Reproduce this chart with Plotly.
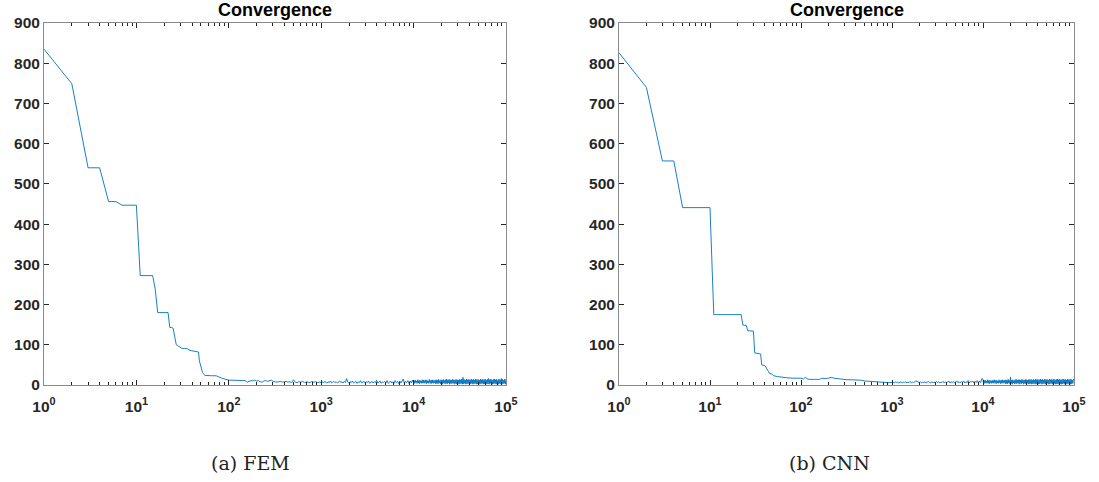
import numpy as np
import plotly.graph_objects as go

# ---------------- data ----------------
fem_head_x = [1, 2, 3, 4, 5, 6, 7, 8, 9, 10, 11, 12, 13, 14, 15, 16, 17, 18, 20, 22,
              23, 24, 25, 26, 27, 28, 30, 31, 33, 36, 38, 40, 44, 47, 48, 50, 52, 55,
              60, 65, 73, 84, 100, 120, 150]
fem_head_y = [835, 749, 540, 540, 456, 456, 447, 447, 447, 447, 272, 272, 272, 272, 272,
              238, 180, 180, 180, 180, 143, 143, 141, 120, 100, 98, 92, 91, 91, 90, 86,
              85, 84, 82, 60, 45, 31, 24, 23, 23, 23, 17, 12, 12, 11]
fem_tail_a = [7, 9, 11, 10, 12, 10, 11, 8, 7, 10, 11, 9, 10, 12, 9, 8, 7, 8, 9, 7,
              8, 9, 7, 8, 6, 13, 7, 6, 8, 7, 9, 6, 8, 7, 6, 9, 7, 8, 6, 7]
fem_tail_b = [6, 8, 5, 9, 7, 5, 8, 6, 10, 5, 7, 9, 6, 8, 5, 7, 10, 6, 8, 5,
              9, 6, 16, 7, 5, 8, 6, 10, 5, 7, 9, 4, 8, 6, 11, 5, 7, 9, 5, 8,
              6, 10, 4, 7, 9, 5, 8, 6, 12, 5, 7, 10, 4, 8, 6, 9, 5, 11, 4, 7,
              10, 5, 8, 4, 11, 6, 9, 4, 10, 5, 12, 15, 4, 9, 6, 11, 4, 10, 5, 12]
fem_tail_c = [5, 11, 4, 12, 6, 10, 4, 13, 5, 11, 3, 12, 6, 10, 4, 13, 5, 12, 4, 11,
              6, 13, 3, 12, 5, 10, 4, 14, 6, 11, 3, 12, 5, 13, 4, 11, 6, 12, 3, 13,
              4, 12, 3, 14, 5, 11, 3, 13, 4, 12, 2, 14, 5, 11, 3, 13, 4, 15, 3, 12,
              5, 14, 2, 13, 4, 12, 3, 14, 5, 13, 2, 12, 4, 14, 3, 13, 5, 12, 2, 14,
              3, 13, 4, 15, 2, 19, 3, 14, 4, 12, 2, 15, 3, 13, 4, 14, 2, 12, 3, 15,
              4, 13, 2, 14, 3, 12, 4, 15, 2, 13, 3, 14, 4, 12, 2, 15, 3, 13, 4, 14,
              2, 13, 3, 15, 4, 12, 2, 14, 3, 16, 2, 13, 4, 15, 3, 12, 2, 14, 3, 15,
              4, 13, 2, 14, 3, 12, 2, 15, 4, 13, 3, 16, 2, 14, 3, 12, 4, 15, 2, 13]

cnn_head_x = [1, 2, 3, 4, 5, 6, 7, 8, 9, 10, 11, 12, 14, 16, 18, 20, 22, 23, 24, 25,
              26, 27, 28, 29, 30, 31, 33, 35, 36, 37, 38, 40, 41, 43, 45, 48, 50, 55,
              62, 70, 80, 95, 100, 106, 112, 118, 125, 140, 160, 170, 185, 200, 215,
              230, 250, 280, 320, 360, 400, 450, 500, 560, 630, 700, 800, 900]
cnn_head_y = [826, 740, 557, 557, 441, 441, 441, 441, 441, 441, 175, 175, 175, 175, 175,
              175, 175, 149, 149, 148, 135, 135, 135, 135, 134, 80, 79, 78, 77, 50, 49,
              48, 45, 35, 29, 27, 23, 21, 19, 18, 17, 17, 17, 15, 19, 15, 14, 14, 14,
              17, 16, 17, 19, 17, 16, 14, 13, 13, 13, 12, 10, 9, 8, 7, 7, 6]
cnn_tail_b = [6, 7, 5, 8, 6, 7, 5, 6, 8, 5, 7, 6, 8, 5, 7, 6, 9, 5, 7, 6,
              8, 10, 9, 7, 6, 8, 5, 7, 6, 8, 5, 7, 9, 6, 5, 8, 6, 7, 5, 9,
              6, 8, 5, 7, 6, 9, 5, 8, 6, 7, 10, 5, 8, 6, 9, 5, 7, 10, 6, 8,
              5, 9, 6, 10, 5, 8, 6, 11, 5, 9, 7, 10, 5, 9, 6, 11, 5, 10, 6, 16]
cnn_tail_c = [14, 5, 11, 4, 12, 6, 10, 4, 13, 5, 11, 3, 12, 6, 10, 4, 12, 5, 11, 4,
              13, 6, 11, 3, 12, 5, 10, 4, 13, 6, 11, 3, 12, 5, 13, 4, 11, 6, 12, 3,
              13, 4, 12, 3, 14, 5, 11, 3, 20, 4, 12, 2, 13, 5, 11, 3, 13, 4, 14, 3,
              12, 5, 13, 2, 13, 4, 12, 3, 14, 5, 13, 2, 12, 4, 14, 3, 13, 5, 12, 2,
              14, 3, 13, 4, 14, 2, 12, 3, 14, 4, 12, 2, 15, 3, 13, 4, 14, 2, 12, 3,
              15, 4, 13, 2, 14, 3, 12, 4, 15, 2, 13, 3, 14, 4, 12, 2, 15, 3, 13, 4,
              14, 2, 13, 3, 15, 4, 12, 2, 14, 3, 15, 2, 13, 4, 15, 3, 12, 2, 14, 3,
              15, 4, 13, 2, 14, 3, 12, 2, 15, 4, 13, 3, 14, 2, 14, 3, 12, 4, 15, 13]

x_tick_vals = [1, 10, 100, 1000, 10000, 100000]
x_tick_text = ["10<sup>0</sup>", "10<sup>1</sup>", "10<sup>2</sup>",
               "10<sup>3</sup>", "10<sup>4</sup>", "10<sup>5</sup>"]
y_tick_vals = [0, 100, 200, 300, 400, 500, 600, 700, 800, 900]
panel_titles = ["Convergence", "Convergence"]
captions = ["(a) FEM", "(b) CNN"]


def seg_x(lo, hi, n, end=False):
    # sampling positions of the read-off tail values within a decade span
    return list(np.logspace(lo, hi, n, endpoint=end))


fem_x = fem_head_x + seg_x(2.2, 3, len(fem_tail_a)) + seg_x(3, 4, len(fem_tail_b)) \
    + seg_x(4, 5, len(fem_tail_c), True)
fem_y = fem_head_y + fem_tail_a + fem_tail_b + fem_tail_c
cnn_x = cnn_head_x + seg_x(3, 4, len(cnn_tail_b)) + seg_x(4, 5, len(cnn_tail_c), True)
cnn_y = cnn_head_y + cnn_tail_b + cnn_tail_c

# ---------------- figure ----------------
W, H = 1099, 482
LINE = "#0072BD"
AX = "#262626"
TICKFONT = dict(family="Liberation Sans, Arial, sans-serif", size=15.5, color=AX, weight=700)

fig = go.Figure()
fig.add_trace(go.Scatter(x=fem_x, y=fem_y, mode="lines", line=dict(color=LINE, width=0.9),
                         xaxis="x", yaxis="y", showlegend=False, hoverinfo="skip"))
fig.add_trace(go.Scatter(x=cnn_x, y=cnn_y, mode="lines", line=dict(color=LINE, width=0.9),
                         xaxis="x2", yaxis="y2", showlegend=False, hoverinfo="skip"))


def xaxis(domain, anchor):
    return dict(type="log", range=[0, 5], domain=domain, anchor=anchor, automargin=False,
                tickvals=x_tick_vals, ticktext=x_tick_text,
                ticks="inside", ticklen=5, tickwidth=1, tickcolor=AX,
                showline=True, linecolor="#8a8a8a", linewidth=1, mirror="allticks",
                showgrid=False, zeroline=False, tickfont=TICKFONT,
                ticklabelstandoff=7,
                minor=dict(ticks="inside", ticklen=3, tickwidth=1, tickcolor=AX,
                           dtick="D1", showgrid=False))


def yaxis(domain, anchor):
    return dict(range=[0, 900], domain=domain, anchor=anchor, automargin=False,
                tickvals=y_tick_vals,
                ticks="inside", ticklen=5, tickwidth=1, tickcolor=AX,
                showline=True, linecolor="#8a8a8a", linewidth=1, mirror="allticks",
                showgrid=False, zeroline=False, tickfont=TICKFONT)


yd = [(H - 385) / H, (H - 23) / H]
fig.update_layout(
    width=W, height=H,
    margin=dict(l=0, r=0, t=0, b=0, autoexpand=False),
    paper_bgcolor="white", plot_bgcolor="white",
    xaxis=xaxis([44 / W, 506 / W], "y"),
    yaxis=yaxis(yd, "x"),
    xaxis2=xaxis([619 / W, 1074 / W], "y2"),
    yaxis2=yaxis(yd, "x2"),
)

title_x = [275 / W, 846.5 / W]
cap_x = [250 / W, 829 / W]
for i in range(2):
    fig.add_annotation(text="<b>" + panel_titles[i] + "</b>", x=title_x[i], y=(H - 10) / H,
                       xref="paper", yref="paper", showarrow=False,
                       xanchor="center", yanchor="middle",
                       font=dict(family="Liberation Sans, Arial, sans-serif", size=18, color="black"))
    fig.add_annotation(text=captions[i], x=cap_x[i], y=(H - 463) / H,
                       xref="paper", yref="paper", showarrow=False,
                       xanchor="center", yanchor="middle",
                       font=dict(family="DejaVu Serif, serif", size=19, color="#222222"))

fig.write_html("out.html", config={"displayModeBar": False, "staticPlot": True},
               post_script="document.body.style.margin='0';"
                           "document.body.style.overflow='hidden';")
